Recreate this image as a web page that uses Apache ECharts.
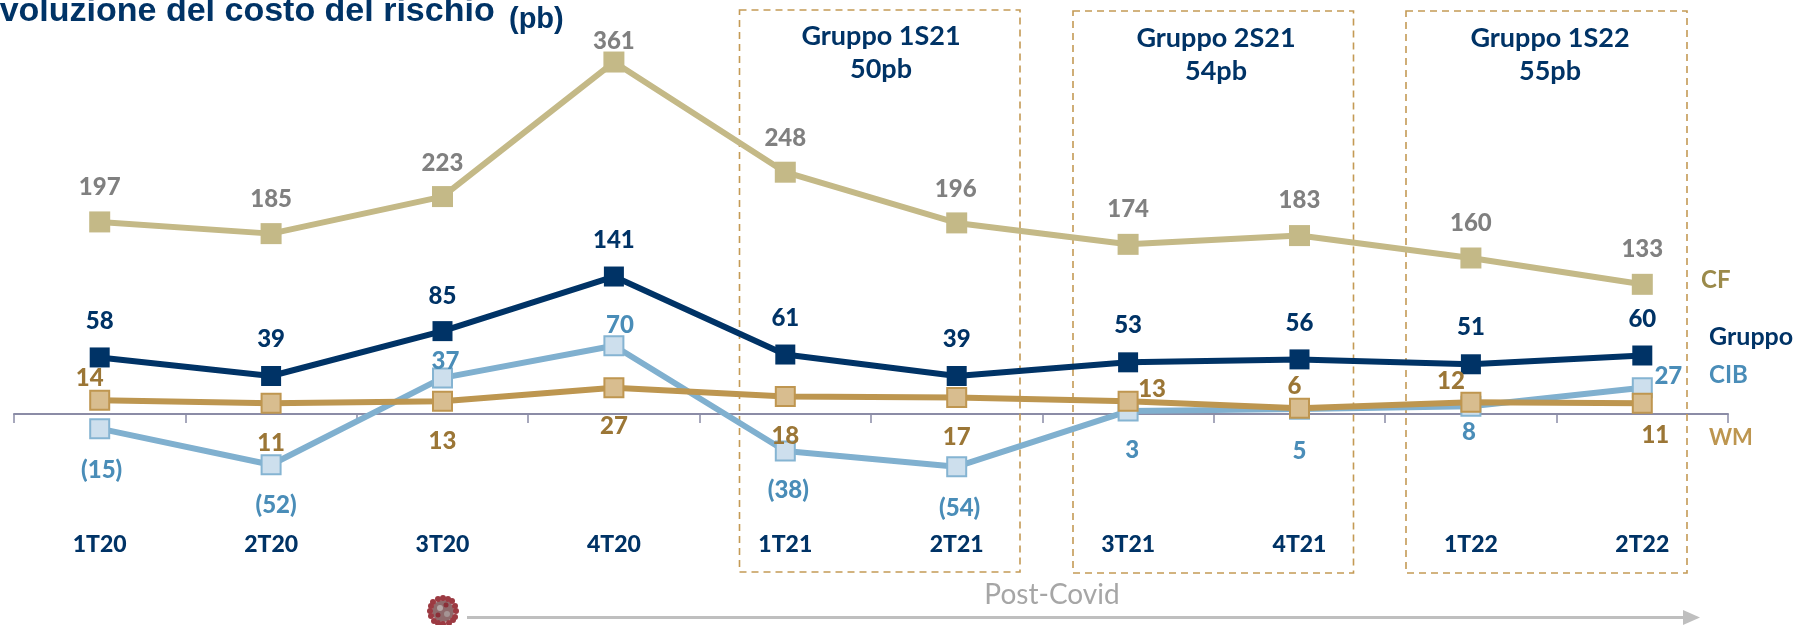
<!DOCTYPE html>
<html><head><meta charset="utf-8">
<style>html,body{margin:0;padding:0;background:#fff;overflow:hidden}#c{width:1803px;height:625px}</style>
<script src="https://cdn.jsdelivr.net/npm/echarts@6/dist/echarts.min.js"></script>
</head><body><div id="c"></div>
<script>
const categories = ['1T20','2T20','3T20','4T20','1T21','2T21','3T21','4T21','1T22','2T22'];
const cfValues = [197,185,223,361,248,196,174,183,160,133];
const gruppoValues = [58,39,85,141,61,39,53,56,51,60];
const cibValues = [-15,-52,37,70,-38,-54,3,5,8,27];
const wmValues = [14,11,13,27,18,17,13,6,12,11];

const cfOffsets = [[0,-35],[0,-34],[0,-33],[0,-21],[0,-34],[-1,-34],[0,-35],[0,-35],[0,-35],[0,-35]];
const gruppoOffsets = [[0,-36],[0,-37],[0,-35],[0,-36],[0,-36],[0,-37],[0,-37],[0,-36],[0,-37],[0,-36]];
const cibOffsets = [[2,42],[5,41],[3,-17],[6,-20],[3,39],[3,42],[4,39],[0,42],[-2,26],[26,-11]];
const wmOffsets = [[-10,-22],[0,40],[0,40],[0,39],[0,40],[0,40],[24,-12],[-5,-22],[-20,-21],[13,32]];

const FONT = 'Lato, "Noto Sans", sans-serif';
const fmt = v => v < 0 ? '(' + Math.abs(v) + ')' : String(v);

function makeSeries(name, values, offsets, opt) {
  return {
    name, type: 'line', symbol: 'rect', symbolSize: opt.size, z: opt.z,
    lineStyle: {color: opt.line, width: 6},
    itemStyle: {color: opt.fill, borderColor: opt.border, borderWidth: opt.bw},
    emphasis: {disabled: true},
    data: values.map((v, i) => ({
      value: v,
      label: {
        show: true, position: 'inside', offset: offsets[i],
        align: 'center', verticalAlign: 'middle',
        formatter: fmt(v), color: opt.text,
        fontFamily: FONT, fontWeight: 900, fontSize: 24
      }
    }))
  };
}

function box(x1, y1, x2, y2) {
  return {type: 'rect', shape: {x: x1, y: y1, width: x2 - x1, height: y2 - y1}, z: 1,
    style: {fill: 'none', stroke: '#c49a55', lineWidth: 1.6, lineDash: [7, 5]}};
}
function txt(x, y, text, color, size, weight, align) {
  return {type: 'text', x, y, z: 20, style: {text, fill: color, fontFamily: FONT,
    fontSize: size, fontWeight: weight || 'bold', align: align || 'left', verticalAlign: 'middle', lineHeight: 33}};
}
const spikes = [[0,-13],[9,-10],[13,0],[10,9],[0,13],[-9,10],[-13,0],[-10,-9],[5,-12],[12,-5],[12,6],[-5,12],[-12,5],[-12,-5],[-5,-12],[6,12]];
const virus = [
  {type:'circle', shape:{cx:443,cy:611,r:11}, style:{fill:'#8f6a6c'}, z:5},
  ...spikes.map(s => ({type:'circle', shape:{cx:443+s[0],cy:611+s[1],r:3}, style:{fill:'#9c3a42'}, z:6})),
  {type:'circle', shape:{cx:440,cy:608,r:3}, style:{fill:'#b5a6a6'}, z:7},
  {type:'circle', shape:{cx:447,cy:614,r:3}, style:{fill:'#a59494'}, z:7},
  {type:'circle', shape:{cx:446,cy:605,r:2.5}, style:{fill:'#8c2f38'}, z:7},
  {type:'circle', shape:{cx:438,cy:615,r:2.5}, style:{fill:'#8c2f38'}, z:7}
];

const chart = echarts.init(document.getElementById('c'), null, {renderer: 'canvas'});
chart.setOption({
  animation: false,
  backgroundColor: '#fff',
  grid: {left: 14, right: 75, top: 24, bottom: 113.5, outerBoundsMode: 'none', containLabel: false},
  xAxis: {
    type: 'category', data: categories, boundaryGap: true,
    axisLine: {onZero: true, lineStyle: {color: '#8b8ca6', width: 2}},
    axisTick: {show: true, length: 9, lineStyle: {color: '#8b8ca6', width: 1.5}},
    axisLabel: {margin: 22, color: '#003366', fontFamily: FONT, fontWeight: 900, fontSize: 23, interval: 0}
  },
  yAxis: {type: 'value', min: -100, max: 400, show: false, splitLine: {show: false}},
  series: [
    makeSeries('CF', cfValues, cfOffsets, {size: 21, z: 3, line: '#c4b987', fill: '#c4b987', border: '#c4b987', bw: 0, text: '#808080'}),
    makeSeries('Gruppo', gruppoValues, gruppoOffsets, {size: 20, z: 4, line: '#003366', fill: '#003366', border: '#003366', bw: 0, text: '#003366'}),
    makeSeries('CIB', cibValues, cibOffsets, {size: 19, z: 5, line: '#80b0cf', fill: '#cddfed', border: '#85b4d2', bw: 2, text: '#4a8db8'}),
    makeSeries('WM', wmValues, wmOffsets, {size: 19, z: 6, line: '#bd9650', fill: '#d8bd8f', border: '#bf9650', bw: 2, text: '#9b7636'})
  ],
  graphic: [
    box(739.5, 10, 1020, 572), box(1073, 11, 1353.5, 573), box(1406, 11, 1687, 573),
    txt(881, 53, 'Gruppo 1S21\n50pb', '#003366', 27, 'bold', 'center'),
    txt(1216, 55, 'Gruppo 2S21\n54pb', '#003366', 27, 'bold', 'center'),
    txt(1550, 55, 'Gruppo 1S22\n55pb', '#003366', 27, 'bold', 'center'),
    {type:'text', x:-23, y:12, z:20, style:{text:'Evoluzione del costo del rischio', fill:'#003366',
      fontFamily:'"Liberation Sans", Arial, sans-serif', fontSize:34, fontWeight:'bold', verticalAlign:'middle'}},
    {type:'text', x:509, y:20, z:20, style:{text:'(pb)', fill:'#003366',
      fontFamily:'"Liberation Sans", Arial, sans-serif', fontSize:29, fontWeight:'bold', verticalAlign:'middle'}},
    txt(1701, 280, 'CF', '#9b8a4a', 24),
    txt(1709, 337, 'Gruppo', '#003366', 25),
    txt(1709, 375, 'CIB', '#4a8db8', 24),
    txt(1709, 438, 'WM', '#bd9650', 22),
    txt(1052, 595, 'Post-Covid', '#a6a6a6', 28, 'normal', 'center'),
    {type:'line', shape:{x1:467,y1:617.5,x2:1685,y2:617.5}, style:{stroke:'#bfbfbf',lineWidth:3}, z:2},
    {type:'polygon', shape:{points:[[1683,610],[1700,617.5],[1683,625]]}, style:{fill:'#bfbfbf'}, z:2},
    ...virus
  ]
});
</script></body></html>
